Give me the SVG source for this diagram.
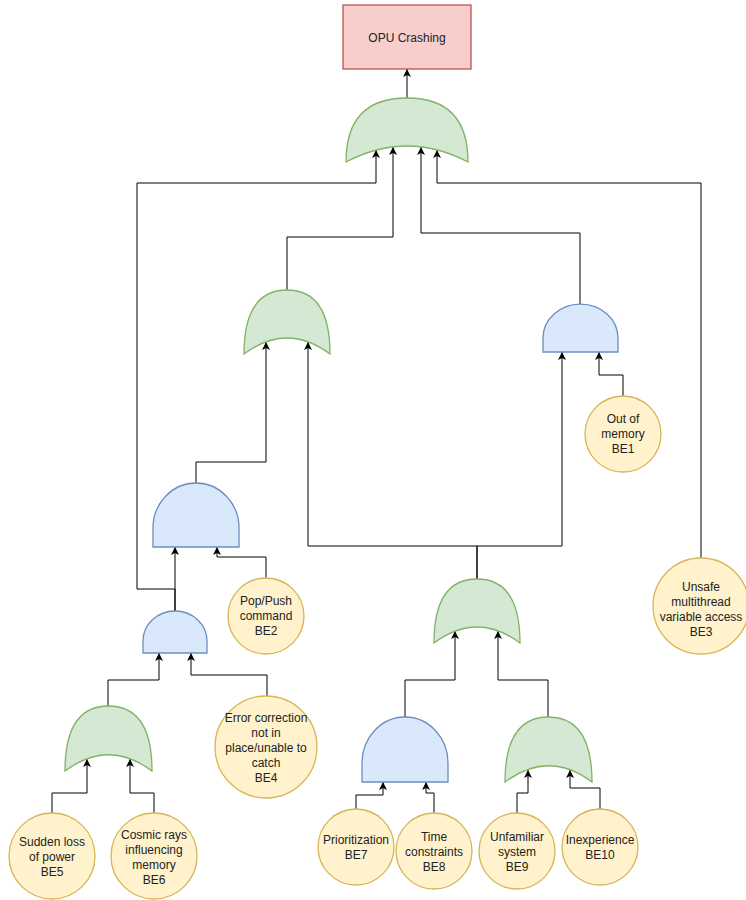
<svg xmlns="http://www.w3.org/2000/svg" width="746" height="900" viewBox="0 0 746 900">
  <style>
    .lbl { font-family: "Liberation Sans", Arial, sans-serif; font-size: 12px; fill: #222; text-anchor: middle; dominant-baseline: central; }
    .top { fill: #f8cecc; stroke: #b85450; stroke-width: 1.3; }
    .or  { fill: #d5e8d4; stroke: #82b366; stroke-width: 1.3; }
    .and { fill: #dae8fc; stroke: #6c8ebf; stroke-width: 1.3; }
    .be  { fill: #fff2cc; stroke: #d6b656; stroke-width: 1.3; }
    .wire { fill: none; stroke: #000; stroke-width: 1; marker-end: url(#arrow); }
  </style>
  <defs>
    <marker id="arrow" markerUnits="userSpaceOnUse" markerWidth="10" markerHeight="10" refX="8" refY="4" orient="auto">
      <path d="M0,0 L8,4 L0,8 L2,4 z" fill="#000"/>
    </marker>
  </defs>
  <rect width="746" height="900" fill="#fff"/>

  <!-- connectors -->
  <g id="connectors">
    <polyline class="wire" points="407,98 407,69"/>
    <polyline class="wire" points="175,611 175,589 137,589 137,183 376,183 376,150"/>
    <polyline class="wire" points="175,611 175,547"/>
    <polyline class="wire" points="287,290 287,237 393,237 393,147"/>
    <polyline class="wire" points="580,304 580,233 421,233 421,147"/>
    <polyline class="wire" points="701,558 701,183 437,183 437,150"/>
    <polyline class="wire" points="196,483 196,462 266,462 266,342"/>
    <polyline class="wire" points="477,579 477,546 308,546 308,342"/>
    <polyline class="wire" points="477,579 477,546 562,546 562,352"/>
    <polyline class="wire" points="623,396 623,375 599,375 599,352"/>
    <polyline class="wire" points="266,578 266,557 217,557 217,547"/>
    <polyline class="wire" points="108,706 108,680 159,680 159,653"/>
    <polyline class="wire" points="267,697 267,675 191,675 191,653"/>
    <polyline class="wire" points="52,813 52,793 87,793 87,759"/>
    <polyline class="wire" points="154,813 154,793 130,793 130,759"/>
    <polyline class="wire" points="405,717 405,680 455,680 455,631"/>
    <polyline class="wire" points="548,717 548,680 498,680 498,631"/>
    <polyline class="wire" points="356,809 356,795 383,795 383,782"/>
    <polyline class="wire" points="434,813 434,793 426,793 426,782"/>
    <polyline class="wire" points="517,813 517,793 528,793 528,770"/>
    <polyline class="wire" points="600,809 600,788 570,788 570,770"/>
  </g>

  <!-- top event -->
  <g id="top-event">
    <rect class="top" x="343" y="5" width="128" height="64"/>
    <text class="lbl" x="407" y="38">OPU Crashing</text>
  </g>

  <!-- OR gates -->
  <g id="or-top">
    <path class="or" d="M346,162 Q346,98 407,98 Q468,98 468,162 Q407,130 346,162 Z"/>
  </g>
  <g id="or-mid-left">
    <path class="or" d="M244,354 Q244,290 287,290 Q330,290 330,354 Q287,322 244,354 Z"/>
  </g>
  <g id="or-low-left">
    <path class="or" d="M65,771 Q65,706 108.5,706 Q152,706 152,771 Q108.5,738.5 65,771 Z"/>
  </g>
  <g id="or-mid-bottom">
    <path class="or" d="M434,643 Q434,579 477,579 Q520,579 520,643 Q477,611 434,643 Z"/>
  </g>
  <g id="or-bottom-right">
    <path class="or" d="M505,782 Q505,717 548.5,717 Q592,717 592,782 Q548.5,749.5 505,782 Z"/>
  </g>

  <!-- AND gates: straight sides under a half-ellipse dome -->
  <g id="and-right">
    <path class="and" d="M543,352 L543,338 A37.5,34 0 0 1 618,338 L618,352 Z"/>
  </g>
  <g id="and-upper-left">
    <path class="and" d="M153,547 L153,528 A43,45 0 0 1 239,528 L239,547 Z"/>
  </g>
  <g id="and-lower-left">
    <path class="and" d="M143,653 L143,641 A32,30 0 0 1 207,641 L207,653 Z"/>
  </g>
  <g id="and-bottom">
    <path class="and" d="M362,782 L362,763 A43,46 0 0 1 448,763 L448,782 Z"/>
  </g>

  <!-- basic events -->
  <g id="be1">
    <circle class="be" cx="623" cy="434" r="38"/>
    <text class="lbl" x="623" y="419">Out of</text>
    <text class="lbl" x="623" y="434">memory</text>
    <text class="lbl" x="623" y="449">BE1</text>
  </g>
  <g id="be2">
    <circle class="be" cx="266" cy="616" r="38"/>
    <text class="lbl" x="266" y="601">Pop/Push</text>
    <text class="lbl" x="266" y="616">command</text>
    <text class="lbl" x="266" y="631">BE2</text>
  </g>
  <g id="be3">
    <circle class="be" cx="701" cy="606" r="48"/>
    <text class="lbl" x="701" y="587">Unsafe</text>
    <text class="lbl" x="701" y="602">multithread</text>
    <text class="lbl" x="701" y="617">variable access</text>
    <text class="lbl" x="701" y="632">BE3</text>
  </g>
  <g id="be4">
    <circle class="be" cx="266" cy="747" r="51"/>
    <text class="lbl" x="266" y="718">Error correction</text>
    <text class="lbl" x="266" y="733">not in</text>
    <text class="lbl" x="266" y="748">place/unable to</text>
    <text class="lbl" x="266" y="763">catch</text>
    <text class="lbl" x="266" y="778">BE4</text>
  </g>
  <g id="be5">
    <circle class="be" cx="52" cy="856" r="43"/>
    <text class="lbl" x="52" y="842">Sudden loss</text>
    <text class="lbl" x="52" y="857">of power</text>
    <text class="lbl" x="52" y="872">BE5</text>
  </g>
  <g id="be6">
    <circle class="be" cx="154" cy="856" r="43"/>
    <text class="lbl" x="154" y="835">Cosmic rays</text>
    <text class="lbl" x="154" y="850">influencing</text>
    <text class="lbl" x="154" y="865">memory</text>
    <text class="lbl" x="154" y="880">BE6</text>
  </g>
  <g id="be7">
    <circle class="be" cx="356" cy="847" r="38"/>
    <text class="lbl" x="356" y="840">Prioritization</text>
    <text class="lbl" x="356" y="855">BE7</text>
  </g>
  <g id="be8">
    <circle class="be" cx="434" cy="851" r="38"/>
    <text class="lbl" x="434" y="837">Time</text>
    <text class="lbl" x="434" y="852">constraints</text>
    <text class="lbl" x="434" y="867">BE8</text>
  </g>
  <g id="be9">
    <circle class="be" cx="517" cy="851" r="38"/>
    <text class="lbl" x="517" y="837">Unfamiliar</text>
    <text class="lbl" x="517" y="852">system</text>
    <text class="lbl" x="517" y="867">BE9</text>
  </g>
  <g id="be10">
    <circle class="be" cx="600" cy="847" r="38"/>
    <text class="lbl" x="600" y="840">Inexperience</text>
    <text class="lbl" x="600" y="855">BE10</text>
  </g>
</svg>
